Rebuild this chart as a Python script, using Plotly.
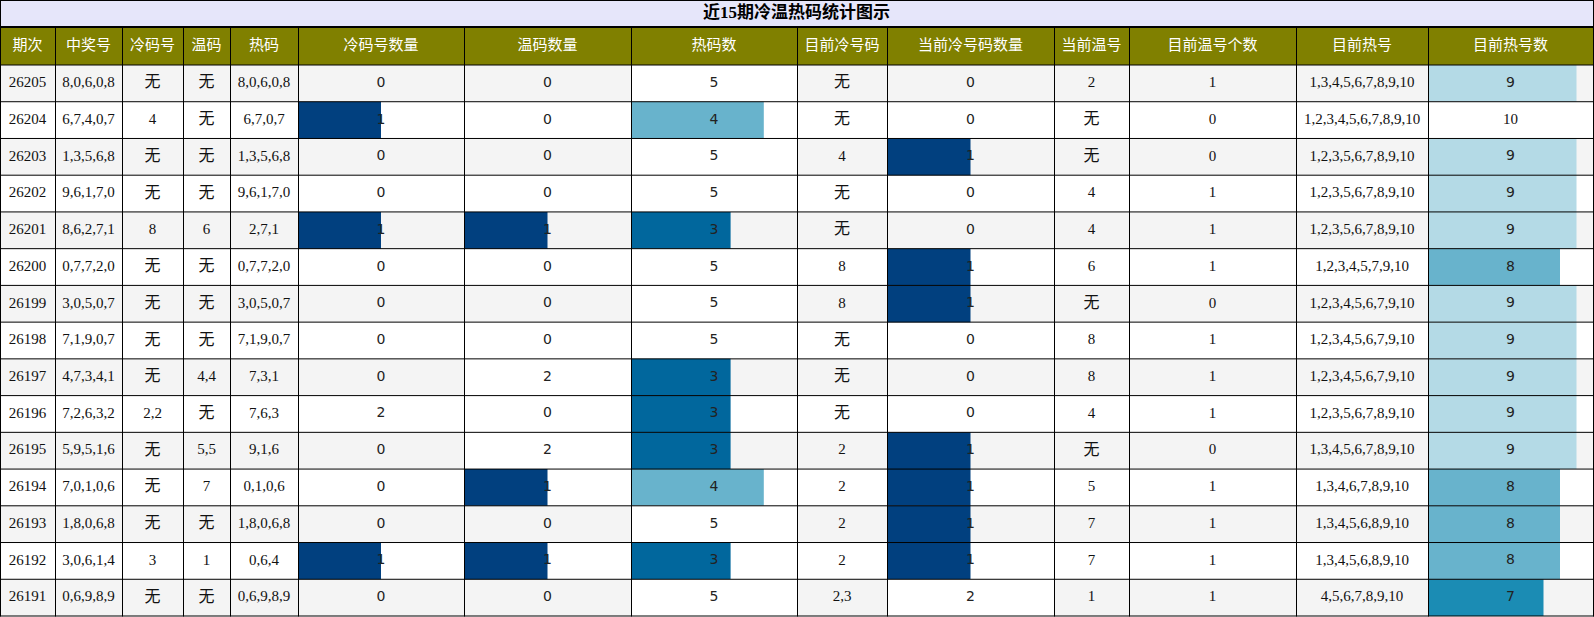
import plotly.graph_objects as go
from plotly.colors import sample_colorscale


TITLE = "近15期冷温热码统计图示"
HEADERS = ["期次", "中奖号", "冷码号", "温码", "热码", "冷码号数量", "温码数量", "热码数",
           "目前冷号码", "当前冷号码数量", "当前温号", "目前温号个数", "目前热号", "目前热号数"]

periods = ["26205", "26204", "26203", "26202", "26201", "26200", "26199", "26198",
           "26197", "26196", "26195", "26194", "26193", "26192", "26191"]
win_nums = ["8,0,6,0,8", "6,7,4,0,7", "1,3,5,6,8", "9,6,1,7,0", "8,6,2,7,1", "0,7,7,2,0",
            "3,0,5,0,7", "7,1,9,0,7", "4,7,3,4,1", "7,2,6,3,2", "5,9,5,1,6", "7,0,1,0,6",
            "1,8,0,6,8", "3,0,6,1,4", "0,6,9,8,9"]
cold_codes = ["无", "4", "无", "无", "8", "无", "无", "无", "无", "2,2", "无", "无", "无", "3", "无"]
warm_codes = ["无", "无", "无", "无", "6", "无", "无", "无", "4,4", "无", "5,5", "7", "无", "1", "无"]
hot_codes = ["8,0,6,0,8", "6,7,0,7", "1,3,5,6,8", "9,6,1,7,0", "2,7,1", "0,7,7,2,0",
             "3,0,5,0,7", "7,1,9,0,7", "7,3,1", "7,6,3", "9,1,6", "0,1,0,6",
             "1,8,0,6,8", "0,6,4", "0,6,9,8,9"]
cold_cnt = [0, 1, 0, 0, 1, 0, 0, 0, 0, 2, 0, 0, 0, 1, 0]
warm_cnt = [0, 0, 0, 0, 1, 0, 0, 0, 2, 0, 2, 1, 0, 1, 0]
hot_cnt = [5, 4, 5, 5, 3, 5, 5, 5, 3, 3, 3, 4, 5, 3, 5]
cur_cold = ["无", "无", "4", "无", "无", "8", "8", "无", "无", "无", "2", "2", "2", "2", "2,3"]
cur_cold_cnt = [0, 0, 1, 0, 0, 1, 1, 0, 0, 0, 1, 1, 1, 1, 2]
cur_warm = ["2", "无", "无", "4", "4", "6", "无", "8", "8", "4", "无", "5", "7", "7", "1"]
cur_warm_cnt = [1, 0, 0, 1, 1, 1, 0, 1, 1, 1, 0, 1, 1, 1, 1]
cur_hot = ["1,3,4,5,6,7,8,9,10", "1,2,3,4,5,6,7,8,9,10", "1,2,3,5,6,7,8,9,10",
           "1,2,3,5,6,7,8,9,10", "1,2,3,5,6,7,8,9,10", "1,2,3,4,5,7,9,10",
           "1,2,3,4,5,6,7,9,10", "1,2,3,4,5,6,7,9,10", "1,2,3,4,5,6,7,9,10",
           "1,2,3,5,6,7,8,9,10", "1,3,4,5,6,7,8,9,10", "1,3,4,6,7,8,9,10",
           "1,3,4,5,6,8,9,10", "1,3,4,5,6,8,9,10", "4,5,6,7,8,9,10"]
cur_hot_cnt = [9, 10, 9, 9, 9, 8, 9, 9, 9, 9, 9, 8, 8, 8, 7]

COLUMNS = [periods, win_nums, cold_codes, warm_codes, hot_codes, cold_cnt, warm_cnt, hot_cnt,
           cur_cold, cur_cold_cnt, cur_warm, cur_warm_cnt, cur_hot, cur_hot_cnt]
BAR_COLUMNS = {5, 6, 7, 9, 13}

# layout (pixels)
W, H = 1594, 617
COL_EDGES = [0, 55, 122, 183, 230, 298, 464, 631, 797, 887, 1054, 1129, 1296, 1428, 1593]
TITLE_BOTTOM = 27
HEAD_BOTTOM = 65
TABLE_BOTTOM = 616
N_ROWS = len(periods)
ROW_H = (TABLE_BOTTOM - HEAD_BOTTOM) / N_ROWS

BAR_SCALE = [
    [0.0, "rgb(0,40,90)"],
    [0.5, "rgb(1,64,127)"],
    [0.6, "rgb(1,103,157)"],
    [0.7, "rgb(27,140,180)"],
    [0.8, "rgb(104,179,204)"],
    [0.9, "rgb(180,218,230)"],
    [1.0, "rgb(255,255,255)"],
]
SERIF = "Liberation Serif, Times New Roman, serif"
SANS = "DejaVu Sans, Verdana, sans-serif"
CJK = "Noto Sans CJK SC, sans-serif"


def main() -> None:
    table_w = COL_EDGES[-1]
    row_y = [HEAD_BOTTOM + ROW_H * (i + 0.5) for i in range(N_ROWS)]
    col_x = [(a + b) / 2 for a, b in zip(COL_EDGES[:-1], COL_EDGES[1:])]

    fig = go.Figure()

    # backgrounds: title, header, striped rows
    bg_y = [TITLE_BOTTOM / 2, (TITLE_BOTTOM + HEAD_BOTTOM) / 2] + row_y
    bg_w = [TITLE_BOTTOM, HEAD_BOTTOM - TITLE_BOTTOM] + [ROW_H] * N_ROWS
    bg_c = ["#e6e6fa", "#808000"] + ["#f4f4f4" if i % 2 == 0 else "#ffffff" for i in range(N_ROWS)]
    fig.add_trace(go.Bar(orientation="h", y=bg_y, x=[table_w] * len(bg_y), base=0,
                         width=bg_w, marker=dict(color=bg_c, line_width=0),
                         hoverinfo="skip", showlegend=False))

    # data bars, length and colour both from value / column max
    bx, bbase, by, bc = [], [], [], []
    for ci in sorted(BAR_COLUMNS):
        vals = COLUMNS[ci]
        vmax = max(vals)
        left, right = COL_EDGES[ci], COL_EDGES[ci + 1]
        for i, v in enumerate(vals):
            if v <= 0:
                continue
            frac = v / vmax
            bx.append(frac * (right - left))
            bbase.append(left)
            by.append(row_y[i])
            bc.append(sample_colorscale(BAR_SCALE, [frac])[0])
    fig.add_trace(go.Bar(orientation="h", y=by, x=bx, base=bbase, width=ROW_H,
                         marker=dict(color=bc, line_width=0),
                         hoverinfo="skip", showlegend=False))

    # cell text, grouped by font (two-digit counts show up in the serif face)
    groups = {"serif": ([], [], []), "sans": ([], [], []), "cjk": ([], [], [])}
    for ci, vals in enumerate(COLUMNS):
        for i, v in enumerate(vals):
            s = str(v)
            if s == "无":
                key = "cjk"
            elif ci in BAR_COLUMNS and len(s) == 1:
                key = "sans"
            else:
                key = "serif"
            groups[key][0].append(col_x[ci])
            groups[key][1].append(row_y[i])
            groups[key][2].append(s)
    fonts = {"serif": (SERIF, 15, "#111111"), "sans": (SANS, 14, "#222222"), "cjk": (CJK, 16, "#111111")}
    for key, (xs, ys, ts) in groups.items():
        fam, size, col = fonts[key]
        fig.add_trace(go.Scatter(x=xs, y=ys, text=ts, mode="text", textposition="middle center",
                                 textfont=dict(family=fam, size=size, color=col),
                                 hoverinfo="skip", showlegend=False))

    # header and title text
    fig.add_trace(go.Scatter(x=col_x, y=[(TITLE_BOTTOM + HEAD_BOTTOM) / 2] * len(HEADERS),
                             text=HEADERS, mode="text", textposition="middle center",
                             textfont=dict(family=CJK, size=15, color="#ffffff"),
                             hoverinfo="skip", showlegend=False))
    fig.add_trace(go.Scatter(x=[table_w / 2], y=[TITLE_BOTTOM / 2 + 0.5], text=[f"<b>{TITLE}</b>"],
                             mode="text", textposition="middle center",
                             textfont=dict(family=SERIF + ", " + CJK, size=17, color="#000000"),
                             hoverinfo="skip", showlegend=False))

    # grid lines
    line = dict(color="#000000", width=1)
    shapes = []
    h_lines = [0.5, HEAD_BOTTOM] + [HEAD_BOTTOM + ROW_H * (i + 1) for i in range(N_ROWS)]
    for yv in h_lines:
        shapes.append(dict(type="line", x0=0, x1=table_w + 1, y0=yv, y1=yv, line=line, layer="above"))
    shapes.append(dict(type="line", x0=0, x1=table_w + 1, y0=TITLE_BOTTOM, y1=TITLE_BOTTOM,
                       line=dict(color="#000000", width=2), layer="above"))
    for k, xv in enumerate(COL_EDGES):
        top = 0 if k in (0, len(COL_EDGES) - 1) else TITLE_BOTTOM
        shapes.append(dict(type="line", x0=xv + 0.5, x1=xv + 0.5, y0=top, y1=TABLE_BOTTOM + 0.5,
                           line=line, layer="above"))

    fig.update_layout(
        width=W, height=H, margin=dict(l=0, r=0, t=0, b=0),
        paper_bgcolor="#ffffff", plot_bgcolor="#ffffff",
        barmode="overlay", shapes=shapes,
        xaxis=dict(range=[0, W], visible=False, fixedrange=True),
        yaxis=dict(range=[H, 0], visible=False, fixedrange=True),
    )
    fig.write_html("out.html", config={"displayModeBar": False, "staticPlot": True},
                   post_script="document.body.style.margin='0';"
                               "document.documentElement.style.overflow='hidden';")


if __name__ == "__main__":
    main()
